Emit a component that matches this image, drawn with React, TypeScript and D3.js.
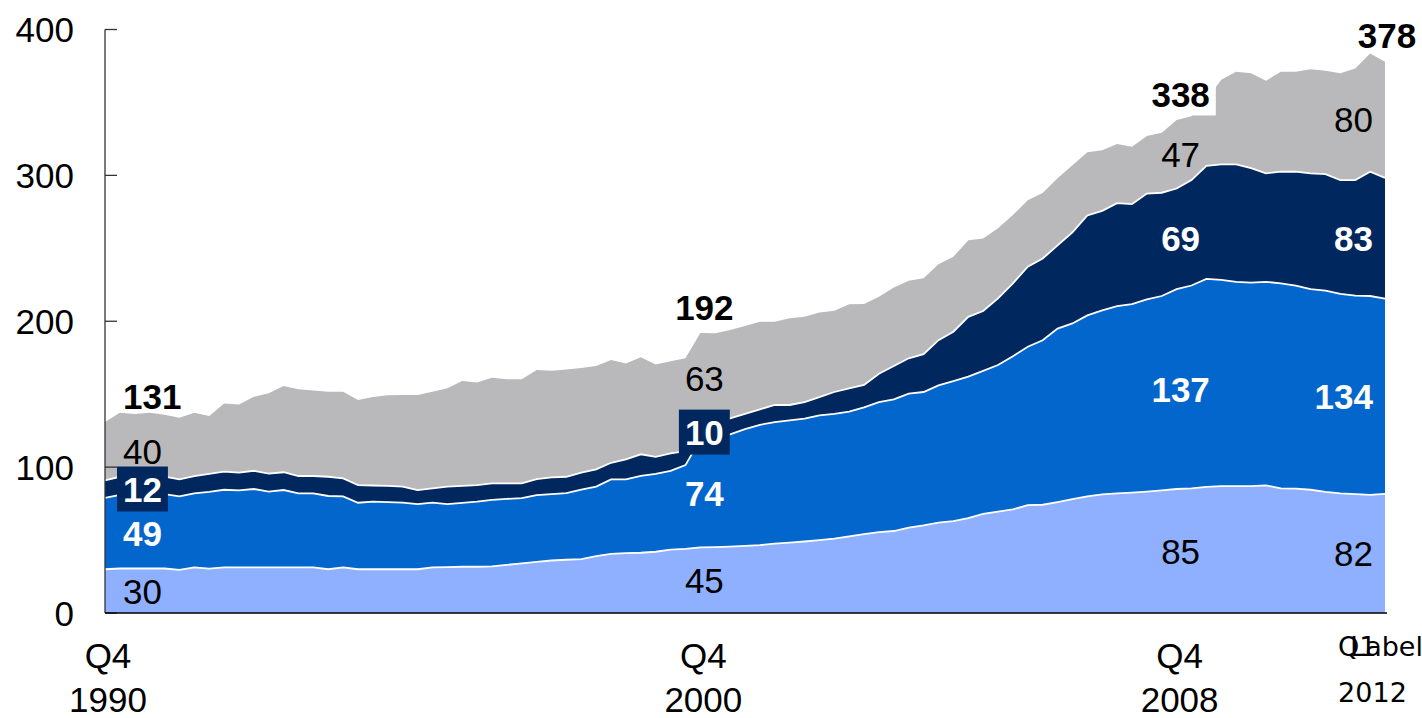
import * as d3 from 'd3';

// Quarterly categories, Q4 1990 .. Q2 2012
const firstYear = 1990;
const firstQuarter = 4;
const quarterCount = 87;
const quarters: string[] = d3.range(quarterCount).map((i) => {
  const n = firstQuarter - 1 + i;
  return `Q${(n % 4) + 1} ${firstYear + Math.floor(n / 4)}`;
});

const tickQuarters = ['Q4 1990', 'Q4 2000', 'Q4 2008', 'Q1 2012'];
const labelQuarters = ['Q4 1990', 'Q4 2000', 'Q4 2008', 'Q2 2012'];

// series values, bottom to top
const lightBlue = [
  30, 30.5, 30.5, 30.5, 30.5, 29.5, 31.3, 30.4, 31.3, 31.3,
  31.3, 31.3, 31.3, 31.3, 31.3, 30, 31.3, 30, 30, 30,
  30, 30, 31.3, 31.5, 31.7, 31.7, 32, 33, 34, 35,
  36, 36.5, 37, 39, 40.5, 41, 41.3, 42, 43.5, 44,
  45, 45.2, 45.5, 46, 46.5, 47.5, 48.2, 49, 50, 51,
  52.5, 54, 55.5, 56.2, 58.5, 60, 62, 63, 65, 68,
  69.5, 71, 74, 74.2, 76, 78, 80, 81.3, 82, 82.5,
  83.2, 84, 85, 85.5, 86.5, 87, 87, 87, 87.5, 85.5,
  85.2, 84.5, 83, 82, 81.5, 81, 81.7,
];
const blue = [
  49, 50.5, 51.5, 51.5, 51, 50.5, 50.7, 52.6, 53.2, 52.7,
  53.7, 51.9, 53, 50.7, 50.7, 50.2, 48.7, 45.6, 46.3, 46,
  45.6, 44.7, 44.3, 43.2, 43.8, 44.6, 45.6, 45.2, 44.8, 45.8,
  45.5, 45.7, 47.5, 47.6, 51.1, 50.6, 52.7, 53.3, 54, 57.4,
  74, 74.8, 77, 80, 82.5, 83.3, 83.8, 84.2, 85.5, 85.5,
  85.5, 87, 89.1, 90.3, 91.9, 91.5, 94, 96, 97, 98,
  100.5, 105, 108.5, 112.8, 119, 120.5, 124, 126.2, 128.3, 129.3,
  131.8, 133.3, 137, 139, 142.5, 141.3, 140, 139.5, 139.5, 140.5,
  139.3, 137.5, 138, 136.7, 136, 136.3, 133.8,
];
const navy = [
  12, 12.4, 11.5, 12, 12, 11.6, 11.9, 12.3, 12.4, 12.2,
  12.5, 12.3, 12.2, 11.9, 11.9, 13.2, 12.3, 12.1, 11.1, 11.2,
  11, 9.6, 9.8, 11.9, 11.7, 11.4, 11.3, 10.7, 10.1, 11,
  11.5, 11.2, 11.7, 11.9, 11.4, 13.7, 14.8, 11.8, 12, 9.6,
  10, 11, 10.9, 10.5, 10.6, 11.8, 10.6, 11.3, 12.5, 15,
  16, 15.3, 19.4, 22.8, 24.2, 26, 31, 33.8, 41, 41,
  45.7, 50, 54.9, 56, 57, 62.5, 68.5, 68.2, 70.7, 68.5,
  72.5, 70.8, 69, 72.3, 77.5, 79.2, 80.5, 78.5, 74.4, 76.5,
  78, 79.4, 79.9, 78.1, 79.3, 85.2, 82.8,
];
const grey = [
  40, 43.9, 42.9, 43.3, 42.4, 42.3, 43.4, 39.7, 46.8, 46.8,
  50.8, 55.1, 59.1, 59.4, 58.6, 58.3, 59.4, 58.3, 60.6, 62.1,
  62.8, 65.1, 66.3, 67.4, 71.8, 70.3, 72.4, 71.3, 71.3, 74.8,
  73, 73.6, 71.8, 70.8, 70.4, 65.8, 66.5, 63.3, 63, 63.6,
  63, 60.7, 60.6, 60.2, 60.1, 57.1, 59.4, 58.5, 58, 55.7,
  57.6, 55.5, 52.8, 53.9, 53.2, 51.9, 52, 51.4, 52.5, 49.8,
  48, 46.8, 45.6, 45, 46, 46, 43.3, 41.6, 40.5, 39.3,
  39.5, 41.1, 47, 43.8, 45.5, 58, 63.5, 65, 63.4, 68.5,
  68.5, 71.4, 70.8, 73.2, 76.5, 81.1, 79.6,
];

const yTicks = [0, 100, 200, 300, 400];

type Key = 'lightBlue' | 'blue' | 'navy' | 'grey';
const keys: Key[] = ['lightBlue', 'blue', 'navy', 'grey'];
const values: Record<Key, number[]> = { lightBlue, blue, navy, grey };

const fills: Record<Key, string> = {
  lightBlue: '#8fb0fe',
  blue: '#0366cd',
  navy: '#00285e',
  grey: '#b9b9bb',
};
const labelStyle: Record<Key, { fill: string; weight: number }> = {
  lightBlue: { fill: '#000', weight: 400 },
  blue: { fill: '#fff', weight: 700 },
  navy: { fill: '#fff', weight: 700 },
  grey: { fill: '#000', weight: 400 },
};

const FONT = '"Liberation Sans", Arial, Helvetica, sans-serif';
const FS = 35;
const digitW = FS * 0.556;

export default function App() {
  const width = 1422;
  const height = 718;
  const x = d3.scaleLinear().domain([0, quarters.length - 1]).range([105, 1385]);
  const y = d3.scaleLinear().domain([0, 400]).range([613, 29.5]);

  const rows = quarters.map((q, i) => ({
    i,
    q,
    lightBlue: lightBlue[i],
    blue: blue[i],
    navy: navy[i],
    grey: grey[i],
  }));
  const stacked = d3.stack<any, Key>().keys(keys)(rows);

  const area = d3
    .area<any>()
    .x((d) => x(d.data.i))
    .y0((d) => y(d[0]))
    .y1((d) => y(d[1]));
  const topLine = d3
    .line<any>()
    .x((d) => x(d.data.i))
    .y((d) => y(d[1]));

  const fmt = d3.format('.0f');
  const lastIdx = quarters.length - 1;

  return (
    <div style={{ position: 'absolute', left: 0, top: 0 }}>
      <svg width={width} height={height} style={{ display: 'block' }}>
        {/* stacked areas */}
        {stacked.map((s) => (
          <path key={s.key} d={area(s) ?? undefined} fill={fills[s.key as Key]} />
        ))}
        {/* white separators on the top edge of the lower three bands */}
        {stacked.slice(0, 3).map((s) => (
          <path
            key={`sep-${s.key}`}
            d={topLine(s) ?? undefined}
            fill="none"
            stroke="#fff"
            strokeWidth={1.8}
          />
        ))}

        {/* axes */}
        <line x1={x(0)} x2={x(0)} y1={y(0)} y2={y(400)} stroke="#333" strokeWidth={1.3} />
        {yTicks.map((t) => (
          <g key={`yt-${t}`}>
            <line x1={x(0)} x2={x(0) + 12} y1={y(t)} y2={y(t)} stroke="#333" strokeWidth={1.3} />
            <text
              x={74}
              y={y(t)}
              dy="0.36em"
              textAnchor="end"
              fontSize={FS}
              fontFamily={FONT}
              fill="#000"
            >
              {t}
            </text>
          </g>
        ))}
        <line x1={x(0)} x2={1387} y1={y(0)} y2={y(0)} stroke="#000" strokeWidth={1.6} />

        {/* x labels */}
        {tickQuarters.map((tq) => {
          const i = quarters.indexOf(tq);
          const [qq, yy] = tq.split(' ');
          const isLast = i === lastIdx - 1;
          if (isLast) {
            return (
              <g key={tq} fontFamily='"DejaVu Sans", sans-serif' fontSize={27} fill="#000">
                <text x={x(i) - 32} y={656}>{qq}</text>
                <text x={x(i) - 32} y={702}>{yy}</text>
                <text x={x(i) - 20} y={656}>Label</text>
              </g>
            );
          }
          return (
            <g key={tq} fontFamily={FONT} fontSize={FS} fill="#000" textAnchor="middle">
              <text x={x(i) + 3} y={668}>{qq}</text>
              <text x={x(i) + 3} y={712}>{yy}</text>
            </g>
          );
        })}

        {/* data labels */}
        {labelQuarters.map((lq, li) => {
          const i = quarters.indexOf(lq);
          const kind = li === 0 ? 'first' : i === lastIdx ? 'last' : 'mid';
          const anchor = kind === 'first' ? 'start' : kind === 'last' ? 'end' : 'middle';
          const lx = kind === 'first' ? x(i) + 18 : kind === 'last' ? x(i) - 12 : x(i) + 4;
          const total = d3.sum(keys, (k) => values[k][i]);
          const totalText = fmt(total);
          const totalX = kind === 'last' ? x(i) + 2 : lx;
          const totalAnchor = kind === 'last' ? 'middle' : anchor;
          const tw = totalText.length * digitW;
          const tLeft =
            totalAnchor === 'start' ? totalX : totalAnchor === 'end' ? totalX - tw : totalX - tw / 2;
          return (
            <g key={lq}>
              {keys.map((k, ki) => {
                const seg = stacked[ki][i];
                const y0 = y(seg[0]);
                const y1 = y(seg[1]);
                const cy = (y0 + y1) / 2;
                const txt = fmt(values[k][i]);
                const w = txt.length * digitW;
                const left = anchor === 'start' ? lx : anchor === 'end' ? lx - w : lx - w / 2;
                const boxed = k === 'navy' && y0 - y1 < 35;
                return (
                  <g key={k}>
                    {boxed && (
                      <rect x={left - 6} y={cy - 22.5} width={w + 12} height={45} fill={fills.navy} />
                    )}
                    <text
                      x={lx}
                      y={cy}
                      dy="0.36em"
                      textAnchor={anchor}
                      fontSize={FS}
                      fontFamily={FONT}
                      fontWeight={labelStyle[k].weight}
                      fill={labelStyle[k].fill}
                    >
                      {txt}
                    </text>
                  </g>
                );
              })}
              {lq === 'Q4 2008' && (
                <rect x={tLeft - 6} y={y(total) - 26 - 21.5} width={tw + 12} height={43} fill="#fff" />
              )}
              <text
                x={totalX}
                y={y(total) - 26}
                dy="0.36em"
                textAnchor={totalAnchor}
                fontSize={FS}
                fontFamily={FONT}
                fontWeight={700}
                fill="#000"
              >
                {totalText}
              </text>
            </g>
          );
        })}
      </svg>
    </div>
  );
}
